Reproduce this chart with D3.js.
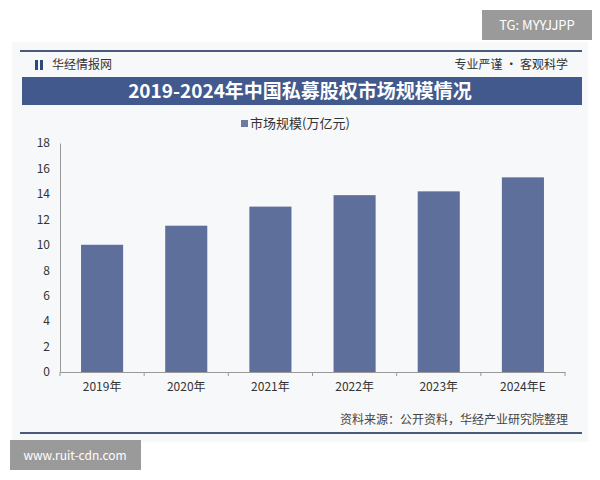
<!DOCTYPE html><html><head><meta charset="utf-8"><script src="https://cdn.jsdelivr.net/npm/d3@7"></script>
<style>body{margin:0;background:#fff}text{font-family:"Noto Sans CJK SC",sans-serif}</style></head><body><svg id="c" width="600" height="480"></svg>
<script>
const categories=["2019年","2020年","2021年","2022年","2023年","2024年E"];
const values=[10.0,11.5,13.0,13.9,14.2,15.3];
const yTicks=[0,2,4,6,8,10,12,14,16,18];
const svg=d3.select("#c");
svg.append("rect").attr("x",12).attr("y",42).attr("width",576).attr("height",400).attr("fill","#f7f8fa");
svg.append("rect").attr("x",20).attr("y",50).attr("width",562).attr("height",2).attr("fill","#4a5a7a");
svg.append("rect").attr("x",20).attr("y",432).attr("width",562).attr("height",2).attr("fill","#4a5a7a");
svg.append("rect").attr("x",35).attr("y",60).attr("width",3).attr("height",10).attr("fill","#2d4a80");
svg.append("rect").attr("x",40).attr("y",60).attr("width",3).attr("height",10).attr("fill","#2d4a80");
svg.append("text").attr("x",52).attr("y",69).attr("font-size",12).attr("fill","#333").text("华经情报网");
svg.append("text").attr("x",568).attr("y",69).attr("text-anchor","end").attr("font-size",12).attr("fill","#333").text("专业严谨 • 客观科学");
svg.append("rect").attr("x",22).attr("y",77).attr("width",560).attr("height",28).attr("fill","#42598e");
svg.append("text").attr("x",300).attr("y",98).attr("text-anchor","middle").attr("font-size",19).attr("font-weight","bold").attr("fill","#fff").attr("font-family","Noto Serif CJK SC,serif").text("2019-2024年中国私募股权市场规模情况");
svg.append("rect").attr("x",241).attr("y",120).attr("width",7).attr("height",7).attr("fill","#6b7aa3");
svg.append("text").attr("x",250).attr("y",128).attr("font-size",13).attr("fill","#333").text("市场规模(万亿元)");
const x=d3.scaleBand().domain(categories).range([60,565]).paddingInner(0.5).paddingOuter(0.25);
const y=d3.scaleLinear().domain([0,18]).range([372,143]);
const ya=svg.append("g").attr("transform","translate(60,0)").call(d3.axisLeft(y).tickValues(yTicks).tickSize(0).tickPadding(10));
ya.select(".domain").attr("stroke","#999");ya.selectAll("text").attr("font-size",12).attr("fill","#333");
const xb=d3.scaleBand().domain(categories).range([60,565]);
const xa=svg.append("g").attr("transform","translate(0,372)").call(d3.axisBottom(xb).tickSize(0).tickPadding(10));
xa.select(".domain").attr("stroke","#999");xa.selectAll("text").attr("font-size",12).attr("fill","#333");
xa.selectAll(".sep").data(d3.range(7)).join("line").attr("x1",i=>60+i*xb.step()).attr("x2",i=>60+i*xb.step()).attr("y1",0).attr("y2",4).attr("stroke","#999");
svg.selectAll(".bar").data(values).join("rect").attr("x",(d,i)=>x(categories[i])).attr("width",x.bandwidth()).attr("y",d=>y(d)).attr("height",d=>372-y(d)).attr("fill","#5e6f9b");
svg.append("text").attr("x",568).attr("y",424).attr("text-anchor","end").attr("font-size",12).attr("fill","#444").text("资料来源：公开资料，华经产业研究院整理");
svg.append("rect").attr("x",482).attr("y",10).attr("width",110).attr("height",30).attr("fill","#9a9a9a");
svg.append("text").attr("x",537).attr("y",30).attr("text-anchor","middle").attr("font-size",13).attr("fill","#fff").attr("font-family","DejaVu Sans").text("TG: MYYJJPP");
svg.append("rect").attr("x",10).attr("y",440).attr("width",131).attr("height",30).attr("fill","#9a9a9a");
svg.append("text").attr("x",75).attr("y",460).attr("text-anchor","middle").attr("font-size",12).attr("fill","#fff").attr("font-family","DejaVu Sans").text("www.ruit-cdn.com");
</script></body></html>
